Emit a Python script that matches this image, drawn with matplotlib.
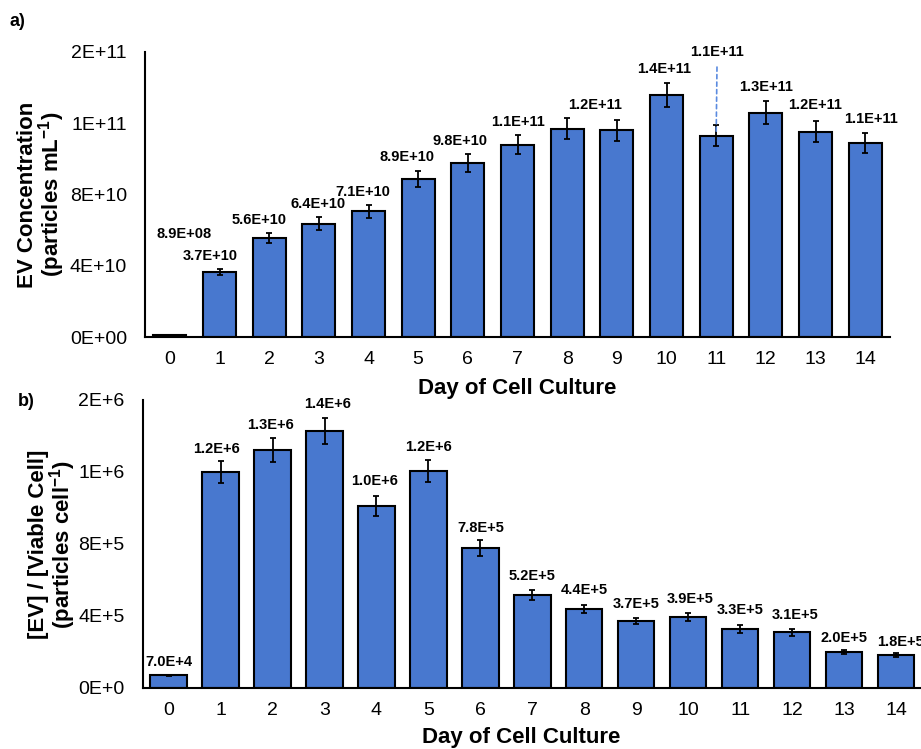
import matplotlib

matplotlib.use("Agg")
import matplotlib.pyplot as plt
import numpy as np

plt.rcParams["font.family"] = ["Liberation Sans", "DejaVu Sans"]
plt.rcParams["mathtext.fontset"] = "custom"
plt.rcParams["mathtext.rm"] = "Liberation Sans"
plt.rcParams["mathtext.bf"] = "Liberation Sans:bold"

# data
days = list(range(15))
ev_conc = [8.9e8, 3.66e10, 5.56e10, 6.36e10, 7.06e10, 8.88e10, 9.78e10, 1.08e11,
           1.17e11, 1.16e11, 1.36e11, 1.13e11, 1.26e11, 1.153e11, 1.09e11]
ev_conc_err = [3e8, 1.7e9, 2.8e9, 3.5e9, 3.7e9, 4.5e9, 5.0e9, 5.4e9,
               5.9e9, 5.9e9, 6.8e9, 6.0e9, 6.5e9, 6.0e9, 5.6e9]
ev_per_cell = [7.0e4, 1.198e6, 1.32e6, 1.43e6, 1.01e6, 1.207e6, 7.8e5, 5.18e5,
               4.39e5, 3.72e5, 3.94e5, 3.28e5, 3.09e5, 2.0e5, 1.83e5]
ev_per_cell_err = [2e3, 6.1e4, 6.7e4, 7.2e4, 5.4e4, 6.2e4, 4.4e4, 2.8e4,
                   2.4e4, 1.9e4, 2.4e4, 2.0e4, 1.8e4, 1.0e4, 1.0e4]
top_ticks = [0, 4e10, 8e10, 1.2e11, 1.6e11]
bottom_ticks = [0, 4e5, 8e5, 1.2e6, 1.6e6]

# label placement (pixels), None = no label
top_dx = [14, -9, -10, -1, -6, -11, -8, 0, 28, None, -2, 1, 0, 0, 6]
top_dy = [101, 13, 13, 13, 13, 14, 13, 13, 13, 0, 14, 84, 14, 16, 14]
leader = 11
bot_dx = [0, -4, -2, 3, -2, 0, 0, 0, 0, 0, 2, 0, 3, 0, 4]
bot_dy = [13, 12, 13, 14, 15, 13, 12, 14, 15, 14, 14, 15, 14, 12, 11]

BAR = "#4878CF"


def sci(v, short_exp=False, digits=1):
    s = f"{v:.{digits}E}"
    if short_exp:
        mant, exp = s.split("E")
        s = f"{mant}E{exp[0]}{int(exp[1:])}"
    return s


def draw_panel(ax, vals, errs, width, ticks, short_exp, dxs, dys, ylim):
    ax.bar(days, vals, width=width, color=BAR, edgecolor="black", linewidth=1.5, zorder=2)
    ax.errorbar(days, vals, yerr=errs, fmt="none", ecolor="black", elinewidth=1.3,
                capsize=2.5, capthick=1.3, zorder=3)
    for i, (v, e) in enumerate(zip(vals, errs)):
        if dxs[i] is None:
            continue
        if i == leader and not short_exp:
            # label lifted above the others, tied to its bar by a dashed line
            ax.annotate(sci(v, short_exp), xy=(i, v), xytext=(dxs[i], dys[i]),
                        textcoords="offset pixels", ha="center", va="center",
                        fontsize=10.5, fontweight="bold",
                        arrowprops=dict(arrowstyle="-", linestyle=(0, (2.5, 2)), color="#5B8BE0",
                                        lw=1.2, shrinkA=4, shrinkB=-3))
        else:
            ax.annotate(sci(v, short_exp), xy=(i, v + e), xytext=(dxs[i], dys[i]),
                        textcoords="offset pixels", ha="center", va="center",
                        fontsize=10.5, fontweight="bold")
    ax.set_xlim(-0.5, 14.5)
    ax.set_ylim(*ylim)
    ax.set_xticks(days)
    ax.set_yticks(ticks)
    ax.set_yticklabels([sci(t, short_exp, 0) for t in ticks])
    ax.tick_params(axis="both", length=0, labelsize=14)
    ax.tick_params(axis="x", pad=10)
    ax.tick_params(axis="y", pad=13)
    for side in ("top", "right"):
        ax.spines[side].set_visible(False)
    for side in ("left", "bottom"):
        ax.spines[side].set_linewidth(1.5)
        ax.spines[side].set_color("black")
    ax.set_xlabel("Day of Cell Culture", fontsize=16, fontweight="bold")


fig = plt.figure(figsize=(9.21, 7.49), dpi=100)

ax1 = fig.add_axes([145 / 921, 1 - 337 / 749, 745 / 921, 285 / 749])
draw_panel(ax1, ev_conc, ev_conc_err, 0.66, top_ticks, False, top_dx, top_dy, (0, 1.6e11))
ax1.xaxis.set_label_coords(0.5, -51 / 285)
ax1.xaxis.label.set_va("center")

ax2 = fig.add_axes([142.7 / 921, 1 - 688 / 749, 779.3 / 921, 288 / 749])
draw_panel(ax2, ev_per_cell, ev_per_cell_err, 0.70, bottom_ticks, True, bot_dx, bot_dy, (0, 1.6e6))
ax2.xaxis.set_label_coords((521 - 142.7) / 779.3, -50 / 288)
ax2.xaxis.label.set_va("center")

fig.text(42 / 921, 1 - 194.5 / 749,
         "EV Concentration\n(particles mL$^{\\mathbf{-1}}$)",
         rotation=90, ha="center", va="center", multialignment="center",
         fontsize=16, fontweight="bold", linespacing=0.95)
fig.text(53 / 921, 1 - 544.5 / 749,
         "[EV] / [Viable Cell]\n(particles cell$^{\\mathbf{-1}}$)",
         rotation=90, ha="center", va="center", multialignment="center",
         fontsize=16, fontweight="bold", linespacing=0.95)

fig.text(10 / 921, 1 - 22 / 749, "a)", fontsize=13, fontweight="bold", va="center")
fig.text(18 / 921, 1 - 401 / 749, "b)", fontsize=13, fontweight="bold", va="center")

fig.savefig("out.png", dpi=100, facecolor="white")
